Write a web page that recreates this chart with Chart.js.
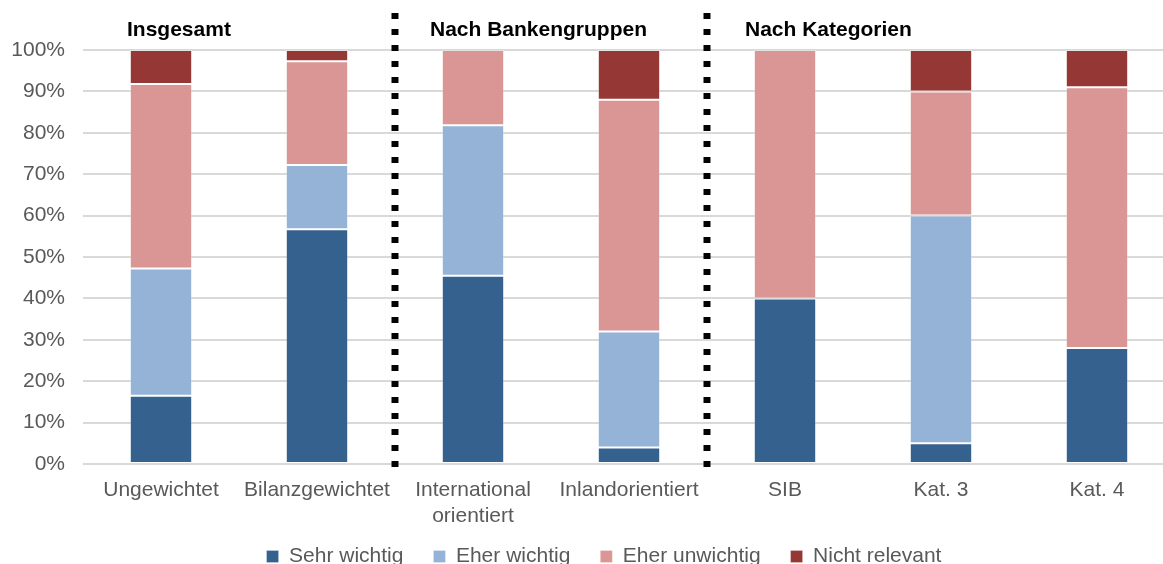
<!DOCTYPE html>
<html>
<head>
<meta charset="utf-8">
<script src="https://cdn.jsdelivr.net/npm/chart.js@4.4.1/dist/chart.umd.min.js"></script>
<style>
    html, body { margin: 0; padding: 0; overflow: hidden; background: #fff; }
    #wrap { width: 1175px; height: 577px; }
</style>
</head>
<body>
<div id="wrap"><canvas id="chart"></canvas></div>
<script>
// categories (x axis)
const categories = ['Ungewichtet', 'Bilanzgewichtet', ['International', 'orientiert'], 'Inlandorientiert', 'SIB', 'Kat. 3', 'Kat. 4'];

// shares in percent
const sehrWichtig    = [16.5, 56.7, 45.5, 4, 40, 5, 28];
const eherWichtig    = [30.7, 15.5, 36.3, 28, 0, 55, 0];
const eherUnwichtig  = [44.6, 25.1, 18.2, 56, 60, 30, 63];
const nichtRelevant  = [8.2, 2.7, 0, 12, 0, 10, 9];

const seriesNames = ['Sehr wichtig', 'Eher wichtig', 'Eher unwichtig', 'Nicht relevant'];
const yTicks = [0, 10, 20, 30, 40, 50, 60, 70, 80, 90, 100];

// group headings: text and index of the first category of the group
const groupTitles = ['Insgesamt', 'Nach Bankengruppen', 'Nach Kategorien'];
const groupStart = [0, 2, 4];

const colors = ['#35618f', '#95b3d7', '#da9694', '#953735'];

// draws the dotted separators and the group headings
const groupsPlugin = {
    id: 'groups',
    afterDatasetsDraw(chart) {
        const ctx = chart.ctx;
        const x = chart.scales.x;
        ctx.save();
        // dotted separators between the groups
        ctx.strokeStyle = '#000';
        ctx.lineWidth = 7;
        ctx.setLineDash([6, 10]);
        groupStart.slice(1).forEach(i => {
            const sx = (x.getPixelForValue(i - 1) + x.getPixelForValue(i)) / 2;
            ctx.beginPath();
            ctx.moveTo(sx, 13);
            ctx.lineTo(sx, 470);
            ctx.stroke();
        });
        ctx.setLineDash([]);
        // headings
        const offsets = [-34, -43, -40];
        ctx.fillStyle = '#000';
        ctx.font = 'bold 21px "Liberation Sans", Arial, sans-serif';
        ctx.textBaseline = 'alphabetic';
        ctx.textAlign = 'left';
        groupTitles.forEach((t, k) => {
            ctx.fillText(t, x.getPixelForValue(groupStart[k]) + offsets[k], 36);
        });
        ctx.restore();
    }
};

const dataSets = [sehrWichtig, eherWichtig, eherUnwichtig, nichtRelevant].map((d, i) => ({
    label: seriesNames[i],
    data: d,
    backgroundColor: colors[i],
    borderColor: 'rgba(255,255,255,0.25)',
    borderWidth: 1,
    borderSkipped: false,
    barPercentage: 0.4,
    categoryPercentage: 1
}));

Chart.defaults.font.family = '"Liberation Sans", Arial, sans-serif';
Chart.defaults.color = '#595959';

// labels may run outside the (tight) axis boxes
const noClip = axis => { axis._computeLabelArea = () => undefined; };

new Chart(document.getElementById('chart'), {
    type: 'bar',
    data: { labels: categories, datasets: dataSets },
    plugins: [groupsPlugin],
    options: {
        responsive: true,
        maintainAspectRatio: false,
        animation: false,
        layout: { padding: { left: 33, right: 0, top: 50, bottom: 0 } },
        scales: {
            x: {
                stacked: true,
                grid: { display: false, drawTicks: false },
                border: { display: false },
                ticks: { font: { size: 21 }, color: '#595959', padding: 14, maxRotation: 0 },
                afterFit: axis => { axis.height = 52; noClip(axis); }
            },
            y: {
                stacked: true,
                min: 0,
                max: 100,
                afterBuildTicks: axis => { axis.ticks = yTicks.map(v => ({ value: v })); },
                grid: { color: '#d9d9d9', lineWidth: 2, drawTicks: false },
                border: { display: false },
                ticks: { font: { size: 21 }, color: '#595959', padding: 18, callback: v => v + '%' },
                afterFit: axis => { axis.width = 50; noClip(axis); }
            }
        },
        plugins: {
            legend: {
                position: 'bottom',
                labels: { font: { size: 21 }, color: '#595959', boxWidth: 12, boxHeight: 12, padding: 30 }
            },
            tooltip: { enabled: false }
        }
    }
});
</script>
</body>
</html>
